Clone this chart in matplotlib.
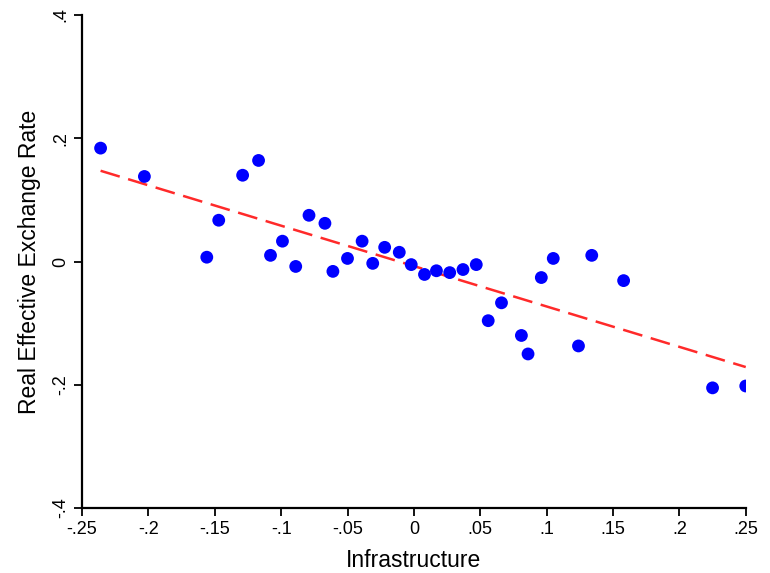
import numpy as np
import matplotlib.pyplot as plt

plt.rcParams['font.family'] = ['Liberation Sans', 'DejaVu Sans']

# Infrastructure (x) vs Real Effective Exchange Rate (y)
infra = [-0.236, -0.203, -0.156, -0.147, -0.129, -0.117, -0.108, -0.099, -0.089,
         -0.079, -0.067, -0.061, -0.050, -0.039, -0.031, -0.022, -0.011, -0.002,
         0.008, 0.017, 0.027, 0.037, 0.047, 0.056, 0.066, 0.081, 0.086, 0.096,
         0.105, 0.124, 0.134, 0.158, 0.225, 0.250]
reer = [0.184, 0.138, 0.007, 0.067, 0.140, 0.164, 0.010, 0.033, -0.008,
        0.075, 0.062, -0.016, 0.005, 0.033, -0.003, 0.023, 0.015, -0.005,
        -0.021, -0.015, -0.018, -0.013, -0.005, -0.096, -0.067, -0.120, -0.150, -0.026,
        0.005, -0.137, 0.010, -0.031, -0.205, -0.202]

xticks = [-0.25, -0.2, -0.15, -0.1, -0.05, 0, 0.05, 0.1, 0.15, 0.2, 0.25]
xticklabels = ['-.25', '-.2', '-.15', '-.1', '-.05', '0', '.05', '.1', '.15', '.2', '.25']
yticks = [-0.4, -0.2, 0, 0.2, 0.4]
yticklabels = ['-.4', '-.2', '0', '.2', '.4']

x = np.array(infra)
y = np.array(reer)
b, a = np.polyfit(x, y, 1)

fig = plt.figure(figsize=(7.7, 5.73), dpi=100)
ax = fig.add_axes([0.1065, 0.1134, 0.862, 0.8604])

ax.scatter(x, y, s=85, color='#0000ff', zorder=3, edgecolors='none')
xs = np.array([x.min(), x.max()])
ax.plot(xs, a + b * xs, color='#ff2a2a', lw=1.8, dashes=(8, 3.5), zorder=2)

ax.set_xlim(-0.25, 0.25)
ax.set_ylim(-0.4, 0.4)
ax.set_xticks(xticks)
ax.set_xticklabels(xticklabels)
ax.set_yticks(yticks)
ax.set_yticklabels(yticklabels, rotation=90, va='center')

for s in ['top', 'right']:
    ax.spines[s].set_visible(False)
for s in ['left', 'bottom']:
    ax.spines[s].set_linewidth(1.6)
ax.tick_params(direction='out', length=6, width=1.3, labelsize=13, pad=3)

ax.set_xlabel('Infrastructure', fontsize=16.5, labelpad=8)
ax.set_ylabel('Real Effective Exchange Rate', fontsize=16.5, labelpad=8)

fig.savefig('out.png', dpi=100)
